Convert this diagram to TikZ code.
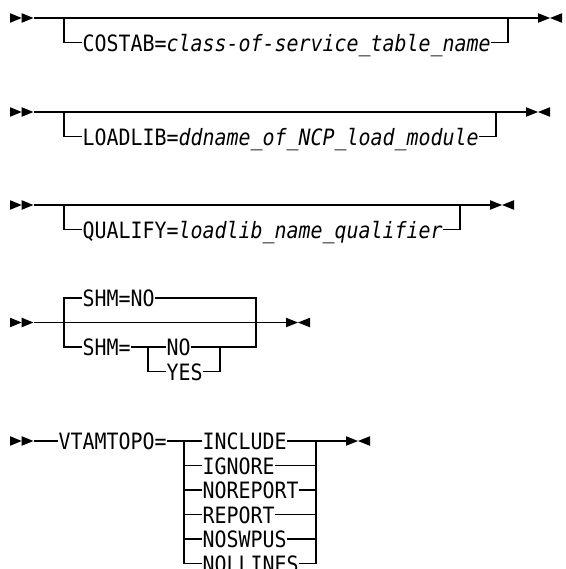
\documentclass[tikz,border=0pt]{standalone}
\usepackage{fontspec}
\newfontfamily\kwfamily{DejaVu Sans Mono}[FakeStretch=0.886]
\begin{document}
\begin{tikzpicture}[x=1pt,y=-1pt,line width=1.3pt,
  kw/.style={font=\kwfamily\fontsize{22.5pt}{26pt}\selectfont, inner sep=0pt,
             text height=17.6pt, text depth=0pt, anchor=west},
  startmark/.pic={\fill (0,-4.8) -- (11.7,0) -- (0,4.8) -- cycle;
                  \fill (11.7,-4.8) -- (23.4,0) -- (11.7,4.8) -- cycle;},
  endmark/.pic={\fill (0,-4.8) -- (12,0) -- (0,4.8) -- cycle;
                \fill (24,-4.8) -- (12,0) -- (24,4.8) -- cycle;}]
\useasboundingbox (0,0) rectangle (565,569);

% ---------- COSTAB ----------
\coordinate (a1) at (10,18);
\coordinate (a1s) at (34,18);
\coordinate (a1l) at (64,18);
\coordinate (a1r) at (508,18);
\coordinate (a1e) at (538,18);
\node[kw] (costab) at (82,42.5) {COSTAB=\textit{class-of-service\_table\_name}};
\pic at (a1) {startmark};
\draw (a1s) -- (a1e);
\draw (a1l) |- (costab.west);
\draw (costab.east) -| (a1r);
\pic at (a1e) {endmark};

% ---------- LOADLIB ----------
\coordinate (a2) at (10,112);
\coordinate (a2s) at (34,112);
\coordinate (a2l) at (64,112);
\coordinate (a2r) at (496,112);
\coordinate (a2e) at (526,112);
\node[kw] (loadlib) at (82,136.5) {LOADLIB=\textit{ddname\_of\_NCP\_load\_module}};
\pic at (a2) {startmark};
\draw (a2s) -- (a2e);
\draw (a2l) |- (loadlib.west);
\draw (loadlib.east) -| (a2r);
\pic at (a2e) {endmark};

% ---------- QUALIFY ----------
\coordinate (a3) at (10,205);
\coordinate (a3s) at (34,205);
\coordinate (a3l) at (64,205);
\coordinate (a3r) at (460,205);
\coordinate (a3e) at (490,205);
\node[kw] (qualify) at (82,229.5) {QUALIFY=\textit{loadlib\_name\_qualifier}};
\pic at (a3) {startmark};
\draw (a3s) -- (a3e);
\draw (a3l) |- (qualify.west);
\draw (qualify.east) -| (a3r);
\pic at (a3e) {endmark};

% ---------- SHM ----------
\coordinate (a4) at (10,322.5);
\coordinate (a4s) at (34,322.5);
\coordinate (a4l) at (64,322.5);
\coordinate (a4r) at (256,322.5);
\coordinate (a4e) at (286,322.5);
\coordinate (a4j1) at (148,347);
\coordinate (a4j2) at (220,347);
\node[kw] (shmno) at (82,298) {SHM=NO};
\node[kw] (shm) at (82,347) {SHM=};
\node[kw] (no) at (166,347) {NO};
\node[kw] (yes) at (166,371.5) {YES};
\pic at (a4) {startmark};
\draw (a4s) -- (a4e);
\draw (shmno.west) -| (a4l) |- (shm.west);
\draw (shmno.east) -| (a4r);
\draw (shm.east) -- (no.west);
\draw (no.east) -- (a4j2) -| (a4r);
\draw (a4j1) |- (yes.west);
\draw (yes.east) -| (a4j2);
\pic at (a4e) {endmark};

% ---------- VTAMTOPO ----------
\coordinate (a5) at (10,441);
\coordinate (a5s) at (34,441);
\coordinate (a5l) at (184,441);
\coordinate (a5r) at (316,441);
\coordinate (a5e) at (346,441);
\node[kw] (vtam) at (58,441) {VTAMTOPO=};
\node[kw] (include) at (202,441) {INCLUDE};
\node[kw] (ignore) at (202,465.5) {IGNORE};
\node[kw] (noreport) at (202,490) {NOREPORT};
\node[kw] (report) at (202,514.5) {REPORT};
\node[kw] (noswpus) at (202,539) {NOSWPUS};
\node[kw] (nollines) at (202,563.5) {NOLLINES};
\pic at (a5) {startmark};
\draw (a5s) -- (vtam.west);
\draw (vtam.east) -- (include.west);
\draw (include.east) -- (a5e);
\draw (a5l) |- (nollines.west);
\draw (a5r) |- (nollines.east);
\foreach \n in {ignore,noreport,report,noswpus}{
  \draw (\n.west -| a5l) -- (\n.west);
  \draw (\n.east) -- (\n.east -| a5r);
}
\pic at (a5e) {endmark};
\end{tikzpicture}
\end{document}
